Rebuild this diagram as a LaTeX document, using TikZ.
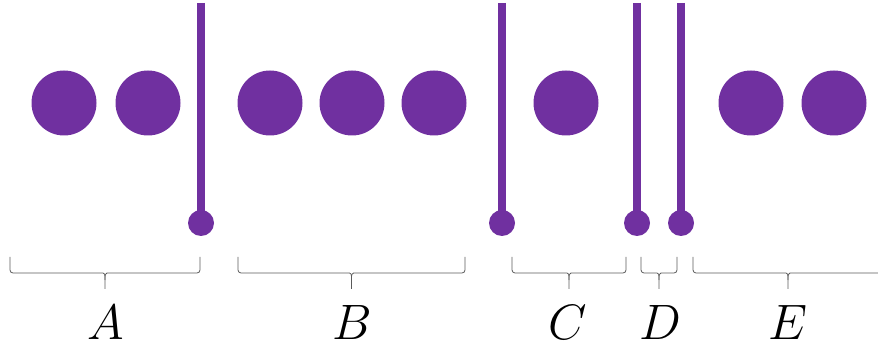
\documentclass[tikz,border=0pt]{standalone}
\usepackage{graphicx}
\usetikzlibrary{calc}
\definecolor{bead}{RGB}{112,48,160}
\definecolor{bracegray}{RGB}{90,90,90}
\tikzset{
  dot/.style={circle, fill=bead, minimum size=65pt, inner sep=0pt},
  bar/.style={draw=bead, line width=8.5pt},
  knob/.style={circle, fill=bead, minimum size=26pt, inner sep=0pt},
  grouplabel/.style={font=\Huge, inner sep=0pt},
  bracepath/.style={draw=bracegray, line width=0.8pt, rounded corners=3pt},
}
\newcommand{\biglabel}[1]{\scalebox{2.0}{$#1$}}
% under-brace from x=#1 to x=#2, named #3
\newcommand{\groupbrace}[3]{%
  \coordinate (#3l) at (#1,257);
  \coordinate (#3r) at (#2,257);
  \coordinate (#3m) at ($(#3l)!0.5!(#3r)$);
  \draw[bracepath] (#3l) |- ($(#3m)+(-5,16)$) .. controls ($(#3m)+(0,16)$) and ($(#3m)+(0,18)$) .. ($(#3m)+(0,23)$) -- ($(#3m)+(0,32)$);
  \draw[bracepath] (#3r) |- ($(#3m)+(5,16)$) .. controls ($(#3m)+(0,16)$) and ($(#3m)+(0,18)$) .. ($(#3m)+(0,23)$);
}
\begin{document}
\begin{tikzpicture}[x=1pt, y=-1pt]
  \useasboundingbox (0,0) rectangle (878,347);
  % beads
  \foreach \x [count=\i] in {64,148,270,352,434,566,751,834}
    \node[dot] (d\i) at (\x,103) {};
  % dividers
  \foreach \x [count=\i] in {201,502,637,681} {
    \node[knob] (k\i) at (\x,223) {};
    \coordinate (t\i) at (\x,3);
    \draw[bar] (t\i) -- (k\i.center);
  }
  % braces
  \groupbrace{10}{200}{ba}
  \groupbrace{238}{465}{bb}
  \groupbrace{512}{626}{bc}
  \groupbrace{641}{677}{bd}
  \groupbrace{693}{883}{be}
  % labels
  \node[grouplabel] (la) at (106,322) {\biglabel{A}};
  \node[grouplabel] (lb) at (352,322) {\biglabel{B}};
  \node[grouplabel] (lc) at (568,322) {\biglabel{C}};
  \node[grouplabel] (ld) at (660,322) {\biglabel{D}};
  \node[grouplabel] (le) at (788,322) {\biglabel{E}};
\end{tikzpicture}
\end{document}
